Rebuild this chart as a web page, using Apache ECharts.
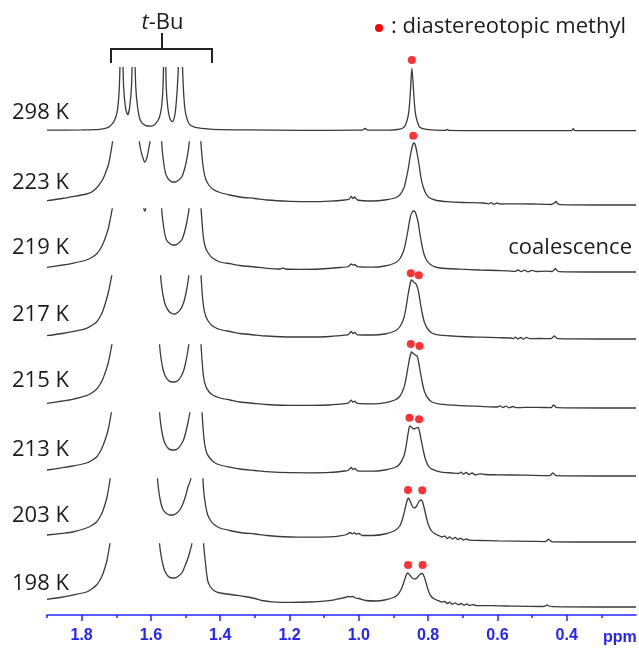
<!DOCTYPE html>
<html>
<head>
<meta charset="utf-8">
<script src="https://cdn.jsdelivr.net/npm/echarts@6/dist/echarts.min.js"></script>
<style>
  html, body { margin: 0; padding: 0; background: #ffffff; }
  #chart { width: 639px; height: 649px; }
</style>
</head>
<body>
<div id="chart"></div>
<script>
// Variable-temperature 1H NMR stack, 1.9 - 0.2 ppm. Each trace is [ppm, intensity].
const temperatures = ['298 K', '223 K', '219 K', '217 K', '215 K', '213 K', '203 K', '198 K'];
const ppmTicks = [0.4, 0.6, 0.8, 1.0, 1.2, 1.4, 1.6, 1.8];
const ppmMinorTicks = [0.3, 0.5, 0.7, 0.9, 1.1, 1.3, 1.5, 1.7, 1.9];

const spec298 = [[1.900,0.5],[1.800,0.8],[1.748,1.4],[1.725,3],[1.711,7],[1.702,13],[1.696,22],[1.691,45],[1.685,120],[1.679,45],[1.673,22],[1.667,16],[1.662,22],[1.656,45],[1.650,120],[1.644,45],[1.638,22],[1.630,10],[1.615,5],[1.598,4.5],[1.584,8],[1.575,14],[1.569,25],[1.565,45],[1.560,120],[1.556,45],[1.551,22],[1.545,12],[1.538,9],[1.532,14],[1.527,28],[1.522,55],[1.514,120],[1.508,55],[1.503,25],[1.497,13],[1.488,6],[1.474,3.5],[1.445,2],[1.401,1],[1.315,0.8],[1.170,0.3],[1.011,0.5],[0.990,0.5],[0.982,2.2],[0.974,0.5],[0.910,0.6],[0.882,1.5],[0.870,3.5],[0.864,7],[0.858,14],[0.854,25],[0.851,40],[0.847,62.5],[0.842,40],[0.839,25],[0.835,14],[0.829,7],[0.824,3.5],[0.809,1.5],[0.780,0.5],[0.750,0.3],[0.745,1.3],[0.740,0.3],[0.535,0],[0.386,0],[0.381,2],[0.376,0],[0.200,0]];

const spec223 = [[1.900,4.3],[1.855,6.5],[1.826,8.3],[1.786,11],[1.771,13],[1.757,17],[1.748,21],[1.740,25],[1.734,29.5],[1.728,35],[1.723,40],[1.719,46.5],[1.715,54],[1.711,63],[1.706,78],[1.700,100],[1.670,180],[1.645,110],[1.636,70],[1.630,56],[1.624,48],[1.618,43],[1.612,47],[1.607,55],[1.601,68],[1.590,130],[1.575,90],[1.569,62],[1.566,50],[1.560,35],[1.555,29],[1.546,24.5],[1.537,23],[1.529,23],[1.520,25],[1.511,28],[1.503,36],[1.497,45],[1.491,58],[1.485,80],[1.470,170],[1.459,80],[1.453,50],[1.448,35],[1.442,26],[1.433,20],[1.422,16],[1.401,12.5],[1.372,10],[1.343,8],[1.300,6.5],[1.266,5],[1.199,3.7],[1.141,3.3],[1.083,3.8],[1.040,5],[1.028,5.8],[1.022,8.5],[1.017,6.5],[1.012,8],[1.004,5],[0.960,4],[0.925,5],[0.896,7],[0.882,10],[0.870,17],[0.864,25],[0.858,35],[0.852,48],[0.846,58],[0.841,62],[0.837,60],[0.832,52],[0.826,40],[0.821,28],[0.815,19],[0.806,11],[0.795,7],[0.775,4.5],[0.745,3.3],[0.700,2.5],[0.640,2],[0.625,1.2],[0.618,2.4],[0.610,0.8],[0.600,2],[0.592,1],[0.560,1.2],[0.500,1],[0.445,0.5],[0.437,1.8],[0.431,3.5],[0.426,1.2],[0.418,0.3],[0.300,0],[0.200,0]];

const spec219 = [[1.900,4.7],[1.855,7],[1.826,8.7],[1.786,12],[1.771,14.5],[1.757,18],[1.748,22],[1.740,27],[1.734,32],[1.728,38],[1.723,43.5],[1.719,50],[1.715,57],[1.711,65],[1.706,80],[1.700,100],[1.670,190],[1.630,90],[1.622,66],[1.618,61],[1.614,66],[1.600,120],[1.580,140],[1.569,63],[1.566,52],[1.560,38],[1.555,32],[1.546,28.5],[1.537,27],[1.529,27],[1.520,29],[1.511,32],[1.503,40],[1.497,49],[1.491,61],[1.485,85],[1.470,170],[1.459,85],[1.453,52],[1.448,33],[1.442,24],[1.433,18],[1.422,14],[1.401,10],[1.372,8.3],[1.343,6.5],[1.300,5],[1.266,3.7],[1.227,3],[1.219,4],[1.212,3],[1.170,2.7],[1.112,3],[1.054,4.5],[1.030,5.5],[1.022,8],[1.017,6.8],[1.012,7.5],[1.004,5.3],[0.960,4.8],[0.925,6],[0.896,9],[0.882,13],[0.870,22],[0.864,31],[0.858,42],[0.852,54],[0.846,60],[0.840,61],[0.835,58],[0.829,50],[0.824,39],[0.818,27],[0.812,18],[0.803,11],[0.789,6.5],[0.766,4],[0.708,2.8],[0.650,2],[0.600,1.5],[0.570,1.2],[0.549,0.6],[0.540,2],[0.532,0.3],[0.522,1.8],[0.512,0.2],[0.500,1.6],[0.488,0.5],[0.460,0.8],[0.442,0.5],[0.437,2],[0.433,3.5],[0.429,2],[0.423,0.4],[0.300,0],[0.200,0]];

const spec217 = [[1.900,3.3],[1.855,5.5],[1.826,7.3],[1.786,10.7],[1.771,13.5],[1.757,17],[1.748,21.5],[1.740,27],[1.734,33],[1.728,40],[1.723,46.5],[1.719,53],[1.715,60],[1.711,68],[1.705,90],[1.660,200],[1.618,120],[1.600,150],[1.575,90],[1.572,63],[1.568,50],[1.563,40],[1.557,33],[1.549,28],[1.540,25.5],[1.532,25],[1.523,26.5],[1.514,30],[1.506,36],[1.500,44],[1.494,55],[1.491,63],[1.485,90],[1.470,170],[1.459,85],[1.453,50],[1.448,32],[1.442,23],[1.433,17],[1.422,13],[1.401,9.5],[1.372,7.5],[1.343,5.5],[1.300,4],[1.266,3],[1.199,2],[1.140,2],[1.083,2.5],[1.040,3.8],[1.030,4.5],[1.022,7.5],[1.017,5.5],[1.012,6.5],[1.004,4.2],[0.960,4],[0.925,5],[0.896,8],[0.882,12],[0.870,21],[0.864,31],[0.858,44],[0.852,55],[0.848,59],[0.843,57.5],[0.838,56],[0.833,54],[0.827,46],[0.822,35],[0.816,24],[0.810,16],[0.801,10],[0.789,6],[0.766,3.8],[0.708,2.5],[0.650,1.8],[0.600,1.3],[0.560,1],[0.555,0.3],[0.548,1.8],[0.541,0],[0.533,1.5],[0.525,-0.2],[0.516,1.6],[0.506,0.3],[0.480,0.5],[0.445,0.4],[0.440,1.8],[0.436,3.2],[0.432,1.8],[0.426,0.3],[0.300,0],[0.200,0]];

const spec215 = [[1.900,4.7],[1.855,7],[1.826,8.7],[1.786,12.3],[1.771,15],[1.757,18.7],[1.748,23],[1.740,28],[1.734,33.5],[1.728,39.5],[1.723,45.5],[1.719,52],[1.715,59],[1.711,67],[1.705,90],[1.660,200],[1.618,130],[1.600,150],[1.578,90],[1.575,63],[1.571,50],[1.566,40],[1.560,33],[1.551,28],[1.540,26],[1.531,26],[1.522,27.5],[1.514,31],[1.506,37],[1.500,45],[1.494,56],[1.491,63],[1.485,90],[1.470,170],[1.459,85],[1.453,50],[1.448,31],[1.442,22],[1.433,16.5],[1.422,13],[1.401,10],[1.372,8],[1.343,6],[1.300,4.5],[1.266,3.5],[1.199,2.6],[1.140,2.6],[1.083,3],[1.040,4.3],[1.030,5],[1.022,7.8],[1.017,5.8],[1.012,6.8],[1.004,4.6],[0.960,4.2],[0.925,5.2],[0.896,8],[0.882,11.5],[0.870,20],[0.864,29],[0.858,41],[0.852,52],[0.848,56],[0.843,54.5],[0.837,53],[0.832,52],[0.827,45],[0.822,35],[0.816,24],[0.810,16],[0.801,10],[0.789,6],[0.766,3.8],[0.708,2.3],[0.650,1.6],[0.600,1.0],[0.592,2.2],[0.585,0.5],[0.575,1.8],[0.566,0.2],[0.556,1.5],[0.545,0.3],[0.520,0.6],[0.460,0.5],[0.445,0.4],[0.441,1.8],[0.438,3.2],[0.434,1.8],[0.428,0.3],[0.300,0],[0.200,0]];

const spec213 = [[1.900,6],[1.855,8.3],[1.826,10],[1.786,13],[1.771,15.5],[1.757,19],[1.748,23.5],[1.740,29],[1.734,34.5],[1.728,40.5],[1.723,47],[1.719,54],[1.715,62],[1.711,70],[1.705,92],[1.660,200],[1.618,130],[1.600,150],[1.578,90],[1.575,63],[1.571,50],[1.566,40],[1.560,33],[1.551,28],[1.540,26],[1.531,26],[1.522,27.5],[1.514,31],[1.506,36],[1.500,43],[1.494,52],[1.488,63],[1.482,90],[1.468,170],[1.456,85],[1.450,50],[1.445,32],[1.439,23],[1.430,18],[1.419,14],[1.401,11],[1.372,8.8],[1.343,7],[1.300,5.5],[1.266,4.3],[1.199,3.3],[1.140,3.2],[1.083,3.6],[1.040,5],[1.030,5.8],[1.022,8.5],[1.017,6.5],[1.012,7.5],[1.004,5.2],[0.960,4.8],[0.925,6],[0.896,8.5],[0.882,12],[0.870,20],[0.864,29],[0.858,42],[0.853,50],[0.847,48.5],[0.841,47],[0.835,48],[0.829,48.5],[0.824,43],[0.819,34],[0.813,24],[0.807,16],[0.799,10],[0.789,6.8],[0.766,4.2],[0.730,3],[0.712,2.5],[0.705,3.8],[0.698,1.8],[0.690,3.5],[0.682,1.5],[0.673,3],[0.664,1.2],[0.650,2.2],[0.636,1.5],[0.600,1.2],[0.520,0.8],[0.448,0.4],[0.444,1.8],[0.440,3.2],[0.436,1.8],[0.430,0.3],[0.300,0],[0.200,0]];

const spec203 = [[1.900,7],[1.855,8.7],[1.826,10],[1.786,14],[1.771,16.5],[1.757,20],[1.748,24.5],[1.740,30],[1.734,36],[1.728,43],[1.724,50],[1.720,58],[1.716,67],[1.710,85],[1.665,200],[1.620,130],[1.600,150],[1.584,90],[1.581,63],[1.577,50],[1.572,40],[1.566,33],[1.557,29],[1.546,27],[1.537,27],[1.527,28.5],[1.517,32],[1.508,38],[1.500,46],[1.494,54],[1.485,63],[1.479,90],[1.466,170],[1.453,85],[1.448,52],[1.442,36],[1.436,27],[1.427,21],[1.416,17],[1.401,14],[1.372,11.5],[1.343,9.5],[1.300,8],[1.266,6.5],[1.199,5],[1.140,4.8],[1.083,5.2],[1.054,6.2],[1.035,7.5],[1.025,9.5],[1.019,8],[1.013,9.3],[1.007,7.8],[1.000,8.5],[0.990,6.5],[0.960,6.5],[0.925,8],[0.896,11.5],[0.882,16],[0.873,24],[0.866,34],[0.861,41],[0.857,44],[0.852,41],[0.846,36],[0.840,34],[0.834,35.5],[0.828,39.5],[0.822,42],[0.817,41],[0.812,35],[0.806,26],[0.800,18],[0.792,12],[0.782,8.5],[0.766,6],[0.760,5],[0.752,6],[0.745,3.5],[0.738,5.2],[0.730,3],[0.722,4.6],[0.714,2.5],[0.706,3.8],[0.698,2],[0.690,3],[0.680,1.8],[0.650,1.5],[0.600,1.1],[0.500,0.6],[0.462,0.4],[0.457,1.5],[0.453,2.8],[0.448,1.5],[0.442,0.2],[0.300,0],[0.200,0]];

const spec198 = [[1.900,7.7],[1.855,10],[1.826,12],[1.786,15],[1.771,18],[1.757,22],[1.748,26.5],[1.740,32],[1.734,38],[1.728,45],[1.724,52],[1.720,60],[1.716,69],[1.710,88],[1.665,200],[1.620,130],[1.600,150],[1.578,90],[1.575,63],[1.571,52],[1.566,43],[1.560,36],[1.551,31],[1.540,29],[1.531,29],[1.522,30.5],[1.511,34],[1.503,40],[1.494,48],[1.488,55],[1.482,63],[1.476,90],[1.462,170],[1.450,85],[1.448,63],[1.442,42],[1.436,26],[1.428,20],[1.416,16],[1.401,14],[1.380,13],[1.360,12],[1.330,10.5],[1.300,8.5],[1.280,6.5],[1.250,5.2],[1.199,4.7],[1.140,5],[1.100,5.8],[1.070,7.2],[1.054,8.5],[1.040,9.5],[1.032,10.5],[1.025,10],[1.018,10.5],[1.010,9],[1.000,8.5],[0.980,6.5],[0.950,6],[0.925,7],[0.900,9.5],[0.886,13],[0.876,19],[0.868,27],[0.863,32],[0.859,34],[0.853,32],[0.846,29],[0.838,28],[0.831,29.5],[0.824,32.5],[0.817,33.5],[0.811,30],[0.805,23],[0.799,16],[0.792,11],[0.782,8],[0.770,6.3],[0.760,5],[0.752,5.5],[0.745,3.5],[0.738,4.8],[0.730,2.8],[0.722,4.2],[0.713,2.2],[0.705,3.5],[0.697,1.8],[0.688,3],[0.680,1.5],[0.670,2.5],[0.660,1.3],[0.620,1.3],[0.550,0.8],[0.470,0.5],[0.462,0.8],[0.457,2.2],[0.451,1],[0.440,0.3],[0.300,0],[0.200,0]];

// red markers over the diastereotopic methyl signal(s)
const methyl298 = [[0.847, 70.7]];
const methyl223 = [[0.843, 69.3]];
const methyl219 = [];
const methyl217 = [[0.850, 65.7], [0.827, 63.7]];
const methyl215 = [[0.850, 64], [0.825, 62]];
const methyl213 = [[0.854, 58.3], [0.826, 56.7]];
const methyl203 = [[0.858, 52], [0.817, 51.7]];
const methyl198 = [[0.858, 42], [0.816, 42]];

const spectra = [spec298, spec223, spec219, spec217, spec215, spec213, spec203, spec198];
const methylMarks = [methyl298, methyl223, methyl219, methyl217, methyl215, methyl213, methyl203, methyl198];

// layout of the stack
const PLOT_LEFT = 47, PLOT_WIDTH = 589;
const baselineY = [130.7, 205, 272, 339, 408, 476, 542, 607];
const labelY = [113, 182.5, 248, 314.7, 381, 449.5, 516, 583.5];
const CLIP_ABOVE = 63, ROOM_BELOW = 4;
const AXIS_BLUE = '#2424ff';
const INK = '#1c1c1c';
const TEXT_FONT = '"Open Sans", "Noto Sans", sans-serif';

const grids = [], xAxes = [], yAxes = [], series = [];
spectra.forEach((trace, i) => {
  grids.push({ left: PLOT_LEFT, width: PLOT_WIDTH, top: baselineY[i] - CLIP_ABOVE, height: CLIP_ABOVE + ROOM_BELOW });
  xAxes.push({ type: 'value', gridIndex: i, min: 0.2, max: 1.9, inverse: true, show: false });
  yAxes.push({ type: 'value', gridIndex: i, min: -ROOM_BELOW, max: CLIP_ABOVE, show: false });
  series.push({
    type: 'line', name: temperatures[i], xAxisIndex: i, yAxisIndex: i, data: trace,
    showSymbol: false, smooth: 0.25, clip: true, silent: true,
    lineStyle: { color: '#3a3a3a', width: 1.3 }
  });
  if (methylMarks[i].length) {
    series.push({
      type: 'scatter', xAxisIndex: i, yAxisIndex: i, data: methylMarks[i],
      symbol: 'circle', symbolSize: 8, clip: false, silent: true, z: 5,
      itemStyle: { color: '#ff0000' }
    });
  }
});

// shared ppm axis under the stack
const axisGrid = spectra.length;
grids.push({ left: PLOT_LEFT, width: PLOT_WIDTH, top: 600, height: 15 });
yAxes.push({ type: 'value', gridIndex: axisGrid, min: 0, max: 1, show: false });
xAxes.push({
  type: 'value', gridIndex: axisGrid, position: 'bottom', min: 0.2, max: 1.9, inverse: true,
  splitLine: { show: false },
  axisLine: { show: true, lineStyle: { color: AXIS_BLUE, width: 1.5 } },
  axisTick: { show: true, customValues: ppmTicks, length: 6, lineStyle: { color: AXIS_BLUE, width: 1.5 } },
  axisLabel: {
    show: true, customValues: ppmTicks, margin: 13, color: AXIS_BLUE,
    fontFamily: '"Liberation Sans", Arial, sans-serif', fontWeight: 'bold', fontSize: 16,
    formatter: v => v.toFixed(1)
  }
});
xAxes.push({
  type: 'value', gridIndex: axisGrid, position: 'bottom', min: 0.2, max: 1.9, inverse: true,
  splitLine: { show: false },
  axisLine: { show: false },
  axisTick: { show: true, customValues: ppmMinorTicks, length: 3, lineStyle: { color: AXIS_BLUE, width: 1.5 } },
  axisLabel: { show: false }
});

const graphics = temperatures.map((t, i) => ({
  type: 'text', x: 12, y: labelY[i],
  style: { text: t, fill: INK, font: '22px ' + TEXT_FONT, textAlign: 'left', textVerticalAlign: 'middle', align: 'left', verticalAlign: 'middle' }
}));
graphics.push(
  { type: 'text', x: 162.5, y: 23,
    style: { text: '{i|t}-Bu', fill: INK, fontSize: 22, fontFamily: TEXT_FONT, textAlign: 'center', textVerticalAlign: 'middle', align: 'center', verticalAlign: 'middle',
      rich: { i: { fontStyle: 'italic', fontSize: 22, fontFamily: TEXT_FONT, fill: INK } } } },
  { type: 'polyline', shape: { points: [[111, 63], [111, 49], [212, 49], [212, 63]] }, style: { stroke: '#222', lineWidth: 2, fill: null } },
  { type: 'line', shape: { x1: 162, y1: 49, x2: 162, y2: 33 }, style: { stroke: '#222', lineWidth: 2 } },
  { type: 'circle', shape: { cx: 379, cy: 28, r: 4 }, style: { fill: '#ff0000' } },
  { type: 'text', x: 391, y: 27,
    style: { text: ': diastereotopic methyl', fill: INK, font: '22px ' + TEXT_FONT, textAlign: 'left', textVerticalAlign: 'middle', align: 'left', verticalAlign: 'middle' } },
  { type: 'text', x: 632, y: 248,
    style: { text: 'coalescence', fill: INK, font: '22px ' + TEXT_FONT, textAlign: 'right', textVerticalAlign: 'middle', align: 'right', verticalAlign: 'middle' } },
  { type: 'text', x: 603, y: 638,
    style: { text: 'ppm', fill: AXIS_BLUE, font: 'bold 16px "Liberation Sans", Arial, sans-serif', textAlign: 'left', textVerticalAlign: 'middle', align: 'left', verticalAlign: 'middle' } }
);

const chart = echarts.init(document.getElementById('chart'), null, { renderer: 'canvas' });
chart.setOption({
  animation: false,
  backgroundColor: '#ffffff',
  grid: grids,
  xAxis: xAxes,
  yAxis: yAxes,
  series: series,
  graphic: graphics
});
</script>
</body>
</html>
